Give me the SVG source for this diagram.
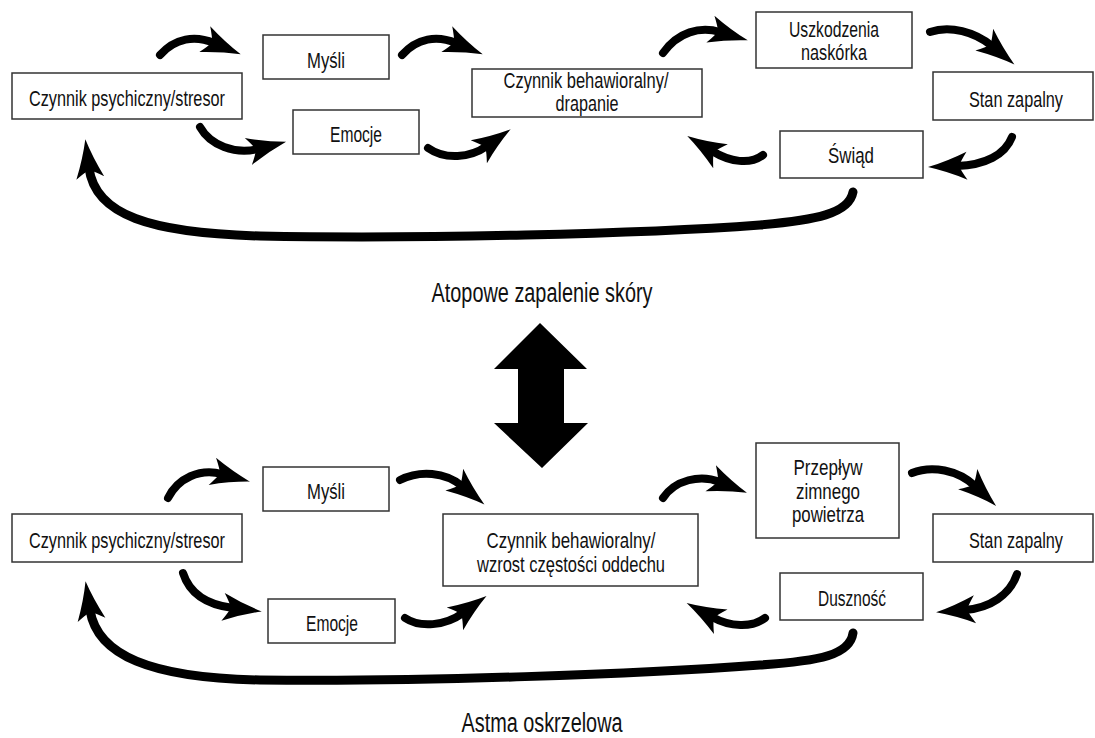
<svg xmlns="http://www.w3.org/2000/svg" width="1095" height="738" viewBox="0 0 1095 738">
<style>
.box{fill:#fff;stroke:#333;stroke-width:1.5}
.t{font-family:"Liberation Sans Narrow","Liberation Sans",sans-serif;font-size:22px;fill:#111;text-anchor:middle}
.title{font-family:"Liberation Sans Narrow","Liberation Sans",sans-serif;font-size:27px;fill:#111;text-anchor:middle}
.arr{fill:none;stroke:#000;stroke-width:8;stroke-linecap:round;marker-end:url(#head)}
.long{fill:none;stroke:#000;stroke-width:9;stroke-linecap:round;marker-end:url(#head)}
</style>
<defs>
<marker id="head" markerUnits="userSpaceOnUse" orient="auto" refX="0" refY="0" markerWidth="40" markerHeight="40" overflow="visible">
<path d="M29,0 Q10,-5 -10,-14 Q-4,-5 -2,0 Q-4,5 -10,14 Q10,5 29,0 Z" fill="#000"/>
</marker>
</defs>
<rect width="1095" height="738" fill="#fff"/>

<g id="connectors">
<path class="arr" d="M160,55 C175,38 195,35 214,43"/>
<path class="arr" d="M402,55 C417,38 437,35 456,43"/>
<path class="arr" d="M200,127 C210,145 235,155 258,149"/>
<path class="arr" d="M428,148 C445,160 470,158 487,146"/>
<path class="arr" d="M663,53 C678,32 700,26 720,32"/>
<path class="arr" d="M930,32 C950,25 975,32 992,46"/>
<path class="arr" d="M1012,137 C1005,155 985,165 957,166"/>
<path class="arr" d="M763,155 C750,165 730,162 712,151"/>
<path class="long" d="M853,192 C849,214 815,220 760,225 C640,234 420,239 260,236 C150,233 95,215 89,168"/>

<path class="arr" d="M168,498 C178,478 200,468 222,474"/>
<path class="arr" d="M400,480 C420,470 445,472 462,486"/>
<path class="arr" d="M183,573 C190,595 208,605 233,608"/>
<path class="arr" d="M405,618 C420,628 445,626 463,613"/>
<path class="arr" d="M663,498 C675,480 700,474 720,482"/>
<path class="arr" d="M912,473 C932,465 958,470 975,486"/>
<path class="arr" d="M1017,574 C1010,595 990,608 965,610"/>
<path class="arr" d="M765,618 C752,628 730,627 712,617"/>
<path class="long" d="M853,633 C850,655 820,661 760,665 C640,674 420,682 260,680 C150,678 97,655 90,610"/>

<polygon points="540,323 587,369 564,369 564,423 588,423 542,468 494,423 518,423 518,369 494,369" fill="#000"/>
</g>

<g id="top-psych"><rect class="box" x="12" y="73" width="230" height="46"/><text class="t" x="127" y="106" textLength="196" lengthAdjust="spacingAndGlyphs">Czynnik psychiczny/stresor</text></g>
<g id="top-mysli"><rect class="box" x="263" y="35" width="126" height="44"/><text class="t" x="326" y="68" textLength="38" lengthAdjust="spacingAndGlyphs">Myśli</text></g>
<g id="top-emocje"><rect class="box" x="293" y="110" width="126" height="44"/><text class="t" x="356" y="142" textLength="52" lengthAdjust="spacingAndGlyphs">Emocje</text></g>
<g id="top-behaw"><rect class="box" x="472" y="69" width="230" height="48"/><text class="t" x="586" y="88" textLength="165" lengthAdjust="spacingAndGlyphs">Czynnik behawioralny/</text><text class="t" x="587" y="111" textLength="63" lengthAdjust="spacingAndGlyphs">drapanie</text></g>
<g id="top-uszk"><rect class="box" x="756" y="12" width="156" height="56"/><text class="t" x="834" y="37" textLength="90" lengthAdjust="spacingAndGlyphs">Uszkodzenia</text><text class="t" x="834" y="60" textLength="66" lengthAdjust="spacingAndGlyphs">naskórka</text></g>
<g id="top-stan"><rect class="box" x="933" y="72" width="160" height="48"/><text class="t" x="1016" y="107" textLength="94" lengthAdjust="spacingAndGlyphs">Stan zapalny</text></g>
<g id="top-swiad"><rect class="box" x="780" y="131" width="143" height="47"/><text class="t" x="851" y="163" textLength="46" lengthAdjust="spacingAndGlyphs">Świąd</text></g>
<text class="title" x="542" y="302" textLength="221" lengthAdjust="spacingAndGlyphs">Atopowe zapalenie skóry</text>

<g id="bot-psych"><rect class="box" x="12" y="514" width="230" height="48"/><text class="t" x="127" y="548" textLength="196" lengthAdjust="spacingAndGlyphs">Czynnik psychiczny/stresor</text></g>
<g id="bot-mysli"><rect class="box" x="263" y="467" width="126" height="44"/><text class="t" x="326" y="499" textLength="38" lengthAdjust="spacingAndGlyphs">Myśli</text></g>
<g id="bot-emocje"><rect class="box" x="268" y="599" width="127" height="44"/><text class="t" x="332" y="631" textLength="52" lengthAdjust="spacingAndGlyphs">Emocje</text></g>
<g id="bot-behaw"><rect class="box" x="443" y="514" width="255" height="72"/><text class="t" x="571" y="548" textLength="169" lengthAdjust="spacingAndGlyphs">Czynnik behawioralny/</text><text class="t" x="571" y="572" textLength="188" lengthAdjust="spacingAndGlyphs">wzrost  częstości oddechu</text></g>
<g id="bot-przeplyw"><rect class="box" x="756" y="443" width="143" height="95"/><text class="t" x="828" y="475" textLength="69" lengthAdjust="spacingAndGlyphs">Przepływ</text><text class="t" x="828" y="499" textLength="64" lengthAdjust="spacingAndGlyphs">zimnego</text><text class="t" x="828" y="522" textLength="72" lengthAdjust="spacingAndGlyphs">powietrza</text></g>
<g id="bot-stan"><rect class="box" x="933" y="514" width="160" height="48"/><text class="t" x="1016" y="548" textLength="94" lengthAdjust="spacingAndGlyphs">Stan zapalny</text></g>
<g id="bot-dusznosc"><rect class="box" x="780" y="573" width="143" height="47"/><text class="t" x="852" y="606" textLength="68" lengthAdjust="spacingAndGlyphs">Duszność</text></g>
<text class="title" x="542" y="732" textLength="161" lengthAdjust="spacingAndGlyphs">Astma oskrzelowa</text>
</svg>
